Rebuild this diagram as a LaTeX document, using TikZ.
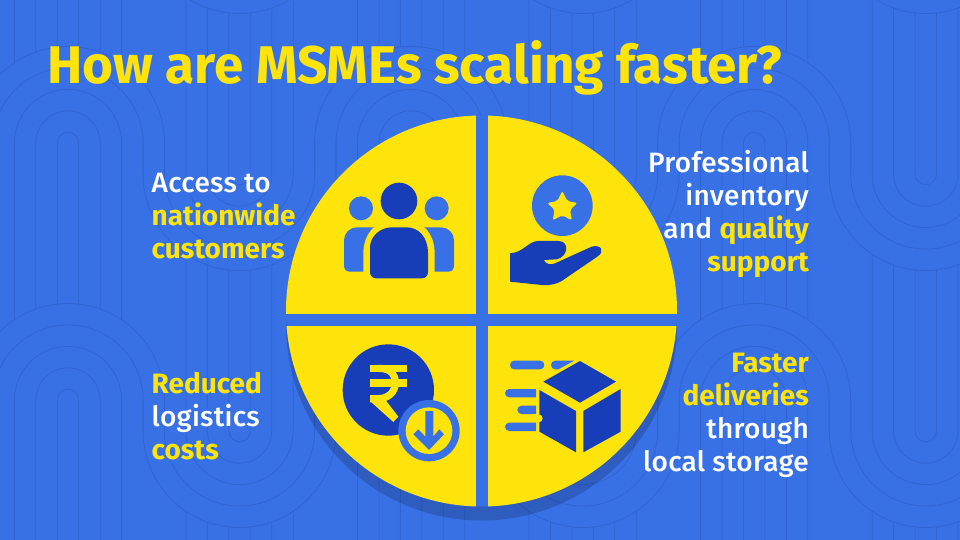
\documentclass[tikz,border=0pt]{standalone}
\usepackage{fontspec}
\setmainfont{Fira Sans}
\newfontfamily\fmed{Fira Sans Medium}[LetterSpace=1]
\newfontfamily\fbold{Fira Sans}[UprightFont=* Bold]
\definecolor{bgblue}{RGB}{56,112,230}
\definecolor{linec}{RGB}{48,100,210}
\definecolor{ylw}{RGB}{255,228,11}
\definecolor{darkb}{RGB}{23,62,184}
\tikzset{
  bgline/.style={draw=linec,line width=0.8pt},
  bodytext/.style={white,font=\fontsize{28}{33}\selectfont\fmed,inner sep=0pt},
  lefttext/.style={bodytext,anchor=base west,align=left},
  righttext/.style={bodytext,anchor=base east,align=right},
  quad/.style={fill=ylw},
  dk/.style={fill=darkb},
  icon/.style={xscale=1/3,yscale=-1/3}
}
\newcommand{\yl}[1]{\textcolor{ylw}{\fbold #1}}
\begin{document}
\begin{tikzpicture}[x=1pt,y=1pt]
\useasboundingbox (0,-540) rectangle (960,0);
\fill[bgblue] (0,-540) rectangle (960,0);
% background serpentine pattern
\begin{scope}
\clip (0,-540) rectangle (960,0);
\foreach \ay in {-114,143,400,657}{
  \pgfmathsetmacro{\uy}{\ay+31}
  \foreach \cx in {68,411.1,754.2}{
    \pgfmathsetmacro{\ux}{\cx+171.55}
    \foreach \r in {10.72,32.16,53.6}{
      \pgfmathsetmacro{\ylow}{\ay+257-sqrt(96.5*96.5-\r*\r)}
      \pgfmathsetmacro{\yu}{\uy-257+sqrt(96.5*96.5-\r*\r)}
      \draw[bgline] (\cx-\r,-\ylow) -- (\cx-\r,-\ay) arc[start angle=180,end angle=0,radius=\r pt] -- (\cx+\r,-\ylow);
      \draw[bgline] (\ux-\r,-\yu) -- (\ux-\r,-\uy) arc[start angle=180,end angle=360,radius=\r pt] -- (\ux+\r,-\yu);
    }
    \foreach \r in {75.05,96.5}{
      \draw[bgline] (\cx-\r,-\uy) -- (\cx-\r,-\ay) arc[start angle=180,end angle=0,radius=\r pt] -- (\cx+\r,-\uy);
      \draw[bgline] (\ux-\r,-\ay) -- (\ux-\r,-\uy) arc[start angle=180,end angle=360,radius=\r pt] -- (\ux+\r,-\ay);
    }
  }
}
\end{scope}
% pie
\fill[black,opacity=0.17] (481.5,-325) circle[radius=195.5pt];
\fill[bgblue] (481.5,-311) circle[radius=195.5pt];
\begin{scope}
\clip (481.5,-311) circle[radius=195.5pt];
\fill[quad] (270,-100) rectangle (476,-314);
\fill[quad] (488,-100) rectangle (690,-314);
\fill[quad] (270,-326) rectangle (476,-520);
\fill[quad] (488,-326) rectangle (690,-520);
\end{scope}
% people icon
\begin{scope}[shift={(280,-110)},icon]
\fill[bgblue] (243,295) circle[radius=36];
\fill[bgblue] (470,295) circle[radius=36];
\fill[bgblue,rounded corners=13pt] (300,352) -- (192,352) [rounded corners=5pt] -- (192,485) -- (300,485);
\fill[bgblue,rounded corners=13pt] (420,352) -- (522,352) [rounded corners=5pt] -- (522,485) -- (420,485);
\fill[dk] (357,273) circle[radius=55];
\draw[ylw,line width=13.3pt] (270,505) -- (270,430) .. controls (270,380) and (300,352) .. (335,352) -- (380,352) .. controls (415,352) and (444,380) .. (444,430) -- (444,505) -- cycle;
\fill[dk,rounded corners=6pt] (357,505) -- (270,505) -- (270,430) [sharp corners] .. controls (270,380) and (300,352) .. (335,352) -- (380,352) .. controls (415,352) and (444,380) .. (444,430) [rounded corners=6pt] -- (444,505) -- (357,505);
\end{scope}
% hand and star icon
\begin{scope}[shift={(480,-110)},icon]
\fill[bgblue] (247,287) circle[radius=91];
\fill[ylw,rounded corners=2pt] (247,243) -- (262,273) -- (292,279) -- (270,300) -- (276,331) -- (247,316) -- (218,331) -- (224,300) -- (202,279) -- (232,273) -- cycle;
\fill[dk] (90,430) -- (90,515) -- (185,525) .. controls (210,527) and (230,522) .. (245,513) -- (352,440) .. controls (375,425) and (365,402) .. (335,410) -- (225,460) .. controls (210,467) and (195,460) .. (192,450) -- (230,448) .. controls (265,440) and (270,393) .. (235,393) -- (175,393) .. controls (145,393) and (130,428) .. (90,430) -- cycle;
\end{scope}
% rupee icon
\begin{scope}[shift={(280,-315)},icon]
\fill[dk] (325,225) circle[radius=137];
\fill[ylw] (270,149) rectangle (382,171);
\fill[ylw] (270,193) rectangle (382,215);
\draw[ylw,line width=7.2pt] (295,160) .. controls (335,160) and (346,180) .. (346,203) .. controls (346,235) and (320,251) .. (295,251) -- (270,251);
\fill[ylw] (270,240) -- (305,240) -- (355,305) -- (340,321) -- (270,258) -- cycle;
\fill[bgblue] (447,347) circle[radius=92];
\fill[ylw] (447,347) circle[radius=70];
\fill[bgblue] (436,288) -- (460,288) -- (460,365) -- (478,343) -- (492,358) -- (447,405) -- (400,358) -- (415,343) -- (436,365) -- cycle;
\end{scope}
% box icon
\begin{scope}[shift={(480,-315)},icon]
\fill[bgblue,rounded corners=4.2pt] (90,137) rectangle (193,163);
\fill[bgblue,rounded corners=4.2pt] (283,137) -- (213,137) -- (213,163) -- (235,163);
\fill[bgblue,rounded corners=4.2pt] (168,222) -- (75,222) -- (75,247) -- (168,247);
\fill[bgblue,rounded corners=4.2pt] (168,272) -- (112,272) -- (112,297) -- (168,297);
\fill[bgblue,rounded corners=4.2pt] (168,323) -- (75,323) -- (75,348) -- (168,348);
\fill[dk] (190,200) -- (300,138) -- (408,200) -- (300,263) -- cycle;
\fill[dk] (178,225) -- (288,288) -- (288,412) -- (178,350) -- cycle;
\fill[dk] (310,288) -- (422,222) -- (422,350) -- (310,412) -- cycle;
\fill[ylw] (176,310) circle[radius=12];
\fill[ylw] (160,298) rectangle (176,322);
\end{scope}
% texts
\node[anchor=base west,inner sep=0pt,ylw,font=\fontsize{53}{53}\selectfont\fbold] (title) at (47,-84) {How are MSMEs scaling faster?};
\node[lefttext] (access) at (151.5,-258) {Access to\\\yl{nationwide}\\\yl{customers}};
\node[righttext] (prof) at (809,-271) {Professional\\inventory\\and \yl{quality}\\\yl{support}};
\node[lefttext] (reduced) at (151.5,-459) {\yl{Reduced}\\logistics\\\yl{costs}};
\node[righttext] (faster) at (809,-471) {\yl{Faster}\\\yl{deliveries}\\through\\local storage};
\end{tikzpicture}
\end{document}
